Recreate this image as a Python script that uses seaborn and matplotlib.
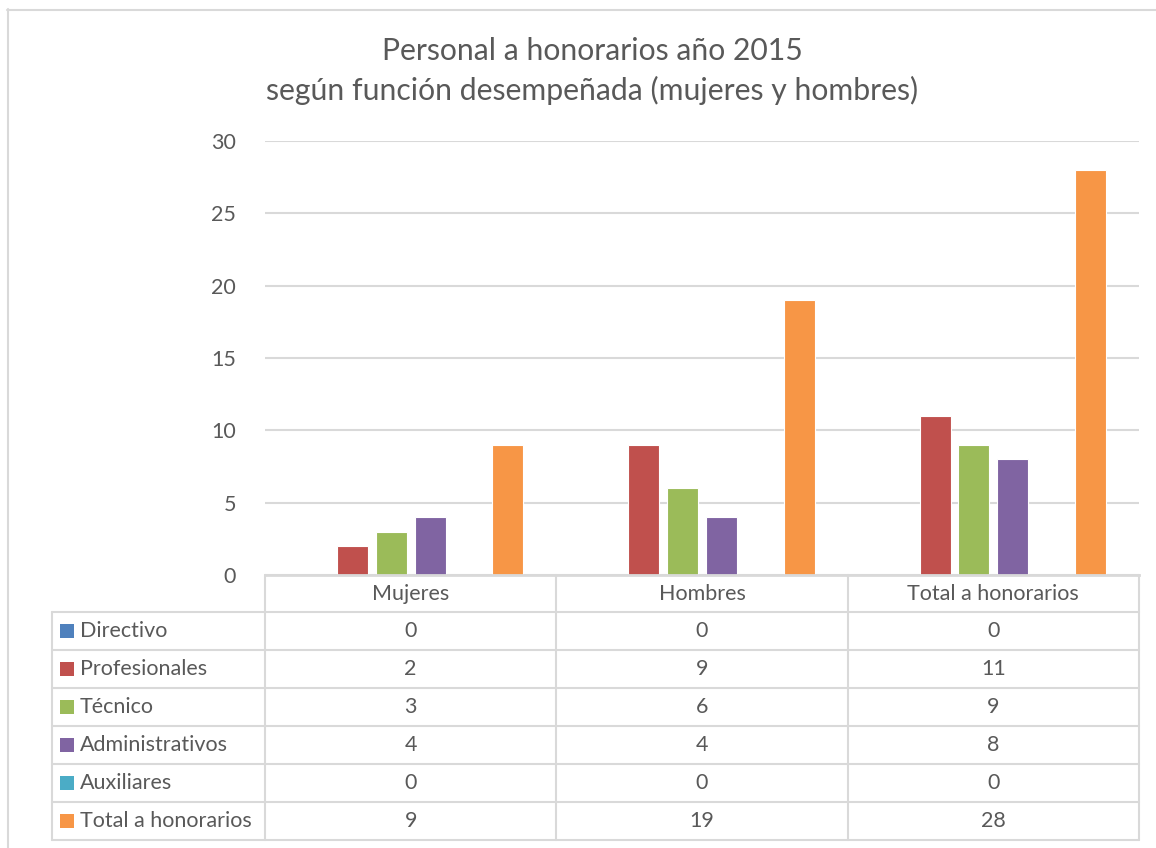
import matplotlib
matplotlib.use("Agg")
import matplotlib.pyplot as plt
import seaborn as sns
import pandas as pd
from matplotlib.lines import Line2D
from matplotlib.patches import Rectangle

# ---------------- data ----------------
grupos = ["Mujeres", "Hombres", "Total a honorarios"]
funciones = ["Directivo", "Profesionales", "Técnico", "Administrativos", "Auxiliares", "Total a honorarios"]
directivo = [0, 0, 0]
profesionales = [2, 9, 11]
tecnico = [3, 6, 9]
administrativos = [4, 4, 8]
auxiliares = [0, 0, 0]
total = [9, 19, 28]
colores = ["#4F81BD", "#C0504D", "#9BBB59", "#8064A2", "#4BACC6", "#F79646"]
titulo = "Personal a honorarios año 2015\nsegún función desempeñada (mujeres y hombres)"
yticks = [0, 5, 10, 15, 20, 25, 30]

series = [directivo, profesionales, tecnico, administrativos, auxiliares, total]
rows = []
for f, vals in zip(funciones, series):
    for g, v in zip(grupos, vals):
        rows.append({"grupo": g, "funcion": f, "valor": v})
df = pd.DataFrame(rows)

# ---------------- figure ----------------
sns.set_theme(style="white")
plt.rcParams["font.family"] = ["Lato", "DejaVu Sans"]
TXT = "#595959"
GRID = "#D9D9D9"
FS = 15.5

W, H = 1156, 848
fig = plt.figure(figsize=(W / 100, H / 100), dpi=100)
fig.patch.set_facecolor("white")

L, R, T, B = 265, 1139, 141, 575
ax = fig.add_axes([L / W, 1 - B / H, (R - L) / W, (B - T) / H])
sns.barplot(data=df, x="grupo", y="valor", hue="funcion", order=grupos,
            hue_order=funciones, palette=dict(zip(funciones, colores)),
            width=0.8, gap=0.2, legend=False, ax=ax, linewidth=0.8,
            edgecolor="white", saturation=1)
ax.set_ylim(0, 30)
ax.set_xlim(-0.5, 2.5)
ax.set_yticks(yticks)
ax.set_yticklabels([str(t) for t in yticks], fontsize=FS, color=TXT)
ax.set_xticks([])
ax.set_xlabel("")
ax.set_ylabel("")
ax.tick_params(axis="y", length=0, pad=21)
ax.yaxis.grid(True, color=GRID, linewidth=1.5)
ax.set_axisbelow(True)
for s in ["top", "right", "left"]:
    ax.spines[s].set_visible(False)
ax.spines["bottom"].set_color(GRID)
ax.spines["bottom"].set_linewidth(2)

fig.text(592 / W, 1 - 71 / H, titulo, ha="center", va="center",
         fontsize=21.7, color=TXT, linespacing=1.42)

# ---------------- data table (overlay) ----------------
ov = fig.add_axes([0, 0, 1, 1])
ov.set_xlim(0, W)
ov.set_ylim(H, 0)
ov.axis("off")

lw = 1.5
# frame of the chart area
ov.add_line(Line2D([7.5, 7.5], [9, H], color=GRID, lw=lw))
ov.add_line(Line2D([7, W], [9.5, 9.5], color=GRID, lw=lw))

colw = (R - L) / 3
xb = [L + i * colw for i in range(4)]
head_top, head_bot = B, 612
rowh = 38
table_bot = head_bot + rowh * len(funciones)
x_left = 52

for xx in xb:
    ov.add_line(Line2D([xx, xx], [head_top, table_bot], color=GRID, lw=lw))
ov.add_line(Line2D([x_left, x_left], [head_bot, table_bot], color=GRID, lw=lw))
for i in range(len(funciones) + 1):
    yy = head_bot + i * rowh
    ov.add_line(Line2D([x_left, R], [yy, yy], color=GRID, lw=lw))

for j, g in enumerate(grupos):
    ov.text(xb[j] + colw / 2, (head_top + head_bot) / 2, g, ha="center",
            va="center", fontsize=FS, color=TXT)

for i, (f, vals, c) in enumerate(zip(funciones, series, colores)):
    yc = head_bot + i * rowh + rowh / 2
    ov.add_patch(Rectangle((60, yc - 7), 14, 14, facecolor=c, edgecolor="none"))
    ov.text(80, yc, f, ha="left", va="center", fontsize=FS, color=TXT)
    for j, v in enumerate(vals):
        ov.text(xb[j] + colw / 2, yc, str(v), ha="center", va="center",
                fontsize=FS, color=TXT)

fig.savefig("out.png", dpi=100, facecolor="white")
